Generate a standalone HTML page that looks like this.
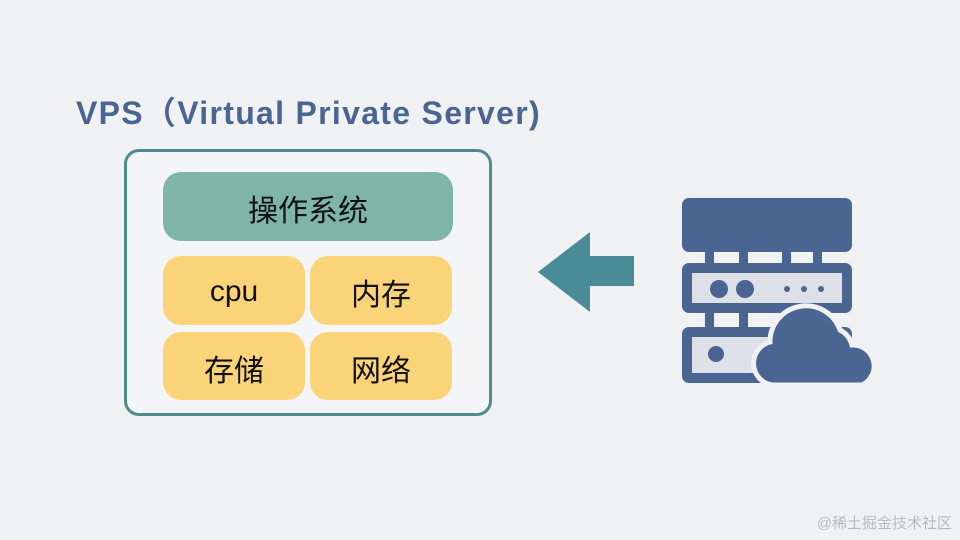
<!DOCTYPE html>
<html><head><meta charset="utf-8"><style>
body{margin:0;width:960px;height:540px;background:#eff1f3;position:relative;overflow:hidden;font-family:"Liberation Sans","Noto Sans CJK SC",sans-serif}
.a{position:absolute;box-sizing:border-box;display:flex;align-items:center;justify-content:center}
.t{font-size:30px;color:#111;padding-top:3px}
</style></head><body>
<div style="position:absolute;left:76px;top:88px;font-size:32px;font-weight:bold;color:#4a6592;letter-spacing:1.3px;white-space:nowrap">VPS（Virtual Private Server)</div>
<div class="a" style="left:124px;top:149px;width:368px;height:267px;border:3.5px solid #4f8a8c;border-radius:15px;background:#f4f5f6"></div>
<div class="a t" style="left:163px;top:172px;width:290px;height:69px;background:#7fb5a4;border-radius:18px">操作系统</div>
<div class="a t" style="left:163px;top:256px;width:142px;height:69px;background:#fbd378;border-radius:18px">cpu</div>
<div class="a t" style="left:310px;top:256px;width:142px;height:69px;background:#fbd378;border-radius:18px">内存</div>
<div class="a t" style="left:163px;top:332px;width:142px;height:68px;background:#fbd378;border-radius:18px">存储</div>
<div class="a t" style="left:310px;top:332px;width:142px;height:68px;background:#fbd378;border-radius:18px">网络</div>
<svg style="position:absolute;left:0;top:0" width="960" height="540">
<polygon points="538,272 590,232 590,256 634,256 634,286 590,286 590,312" fill="#4a8c96"/>
<g fill="#4a6592">
<rect x="682" y="198" width="170" height="54" rx="7"/>
<rect x="705" y="250" width="9" height="14"/><rect x="739" y="250" width="9" height="14"/><rect x="782" y="250" width="9" height="14"/><rect x="813" y="250" width="9" height="14"/>
<rect x="705" y="311" width="9" height="18"/><rect x="739" y="311" width="9" height="18"/>
<rect x="682" y="263" width="170" height="50" rx="7"/>
<rect x="682" y="327" width="170" height="56" rx="7"/>
</g>
<rect x="692" y="273" width="150" height="30" fill="#dde1e7"/>
<rect x="692" y="337" width="150" height="36" fill="#dde1e7"/>
<g fill="#4a6592">
<circle cx="719" cy="289" r="9"/><circle cx="745" cy="289" r="9"/>
<circle cx="787" cy="289" r="3"/><circle cx="804" cy="289" r="3"/><circle cx="821" cy="289" r="3"/>
<circle cx="716" cy="354" r="8"/>
</g>
<g fill="#4a6592" stroke="#eff1f3" stroke-width="5">
<path d="M772,385 A22,22 0 0 1 770,342 A36,36 0 0 1 840,330 A24,24 0 0 1 852,345 A21,21 0 0 1 862,385 Z"/>
</g>
</svg>
<div style="position:absolute;right:8px;top:512px;font-size:15px;color:#b8bcc2">@稀土掘金技术社区</div>
</body></html>
